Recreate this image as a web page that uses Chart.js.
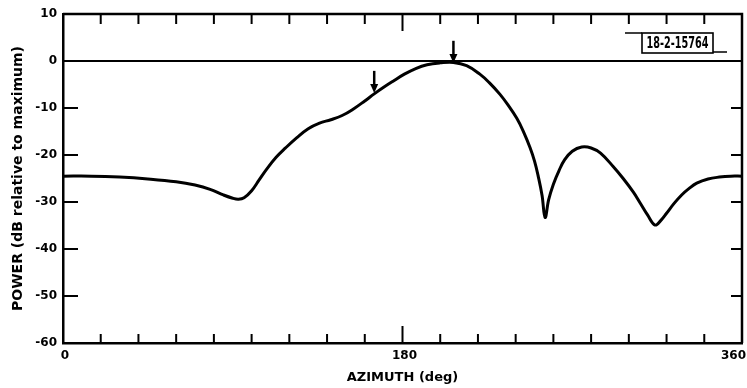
<!DOCTYPE html>
<html>
<head>
<meta charset="utf-8">
<script src="https://cdn.jsdelivr.net/npm/chart.js@4/dist/chart.umd.min.js"></script>
<style>
  html, body { margin: 0; padding: 0; background: #fff; }
  #wrap { width: 747px; height: 388px; }
</style>
</head>
<body>
<div id="wrap"><canvas id="c" width="747" height="388"></canvas></div>
<script>
// ---- data ----
const azimuth = [0, 15, 30, 45, 60, 70, 78, 85, 90, 93, 96, 100, 104, 108, 113, 118, 124, 130, 136, 142, 148, 154, 160, 165, 170, 175, 181, 187, 193, 200, 207, 214, 221, 226, 231.7, 236, 240.6, 244, 247.6, 250, 252, 254, 255.6, 257.5, 260, 263, 266, 270, 275, 280, 285, 291.8, 297, 302.4, 306, 310, 313.9, 317, 320, 324, 328, 332, 336, 342, 348, 354, 360];
const powerDb = [-24.5, -24.5, -24.7, -25.1, -25.7, -26.4, -27.3, -28.5, -29.2, -29.4, -29.1, -27.6, -25.3, -23.0, -20.5, -18.5, -16.3, -14.4, -13.2, -12.5, -11.6, -10.2, -8.5, -7.0, -5.6, -4.3, -2.8, -1.6, -0.8, -0.4, -0.3, -1.0, -2.8, -4.6, -7.1, -9.4, -12.2, -14.9, -18.4, -21.3, -24.6, -28.6, -33.3, -29.5, -26.2, -23.3, -21.0, -19.2, -18.3, -18.5, -19.6, -22.5, -25.0, -27.9, -30.2, -32.8, -34.9, -33.9, -32.4, -30.3, -28.5, -27.1, -26.0, -25.1, -24.7, -24.5, -24.5];
const zeroAz = [0, 360];
const zeroDb = [0, 0];
const xMinorTicks = [20, 40, 60, 80, 100, 120, 140, 160, 180, 200, 220, 240, 260, 280, 300, 320, 340];
const xLabelValues = [0, 180, 360];
const yInnerTicks = [-50, -40, -30, -20, -10];
const arrowAz = [165, 207];
const arrowTopDb = [-2.1, 4.3];
const arrowTipDb = [-6.8, -0.4];
const figureId = '18-2-15764';
const xTitle = 'AZIMUTH (deg)';
const yTitle = 'POWER (dB relative to maximum)';

const curvePoints = azimuth.map((a, i) => ({ x: a, y: powerDb[i] }));
const zeroPoints = zeroAz.map((a, i) => ({ x: a, y: zeroDb[i] }));

const INK = '#000';
const tickFont = 'bold 12px "DejaVu Sans", sans-serif';

const decor = {
  id: 'decor',
  afterDraw(chart) {
    const ctx = chart.ctx;
    const xs = chart.scales.x, ys = chart.scales.y;
    const a = chart.chartArea;
    ctx.save();
    ctx.strokeStyle = INK;
    ctx.fillStyle = INK;
    ctx.lineCap = 'butt';
    // top and right frame
    ctx.lineWidth = 2.5;
    ctx.beginPath();
    ctx.moveTo(a.left, a.top);
    ctx.lineTo(a.right, a.top);
    ctx.lineTo(a.right, a.bottom);
    ctx.stroke();
    // x inward ticks (bottom and top)
    ctx.lineWidth = 2;
    xMinorTicks.forEach(v => {
      const px = xs.getPixelForValue(v);
      const lenB = v === 180 ? 17 : 9;
      const lenT = v === 180 ? 17 : 10;
      ctx.beginPath();
      ctx.moveTo(px, a.bottom);
      ctx.lineTo(px, a.bottom - lenB);
      ctx.moveTo(px, a.top);
      ctx.lineTo(px, a.top + lenT);
      ctx.stroke();
    });
    // y inward ticks (left and right)
    yInnerTicks.forEach(v => {
      const py = ys.getPixelForValue(v);
      ctx.beginPath();
      ctx.moveTo(a.left, py);
      ctx.lineTo(a.left + 15, py);
      ctx.moveTo(a.right, py);
      ctx.lineTo(a.right - 11, py);
      ctx.stroke();
    });
    // x tick labels
    ctx.font = tickFont;
    ctx.textBaseline = 'middle';
    xLabelValues.forEach((v, i) => {
      const px = xs.getPixelForValue(v);
      if (i === xLabelValues.length - 1) {
        ctx.textAlign = 'right';
        ctx.fillText(String(v), px + 4, a.bottom + 13);
      } else {
        ctx.textAlign = 'center';
        ctx.fillText(String(v), px + 2, a.bottom + 13);
      }
    });
    // arrows
    arrowAz.forEach((v, i) => {
      const px = xs.getPixelForValue(v);
      const pt = ys.getPixelForValue(arrowTopDb[i]);
      const pb = ys.getPixelForValue(arrowTipDb[i]);
      ctx.lineWidth = 2.5;
      ctx.beginPath();
      ctx.moveTo(px, pt);
      ctx.lineTo(px, pb - 6);
      ctx.stroke();
      ctx.beginPath();
      ctx.moveTo(px - 4, pb - 9);
      ctx.lineTo(px + 4, pb - 9);
      ctx.lineTo(px, pb);
      ctx.closePath();
      ctx.fill();
    });
    // figure id box
    const bx = a.right - 100, by = a.top + 19, bw = 71, bh = 20;
    ctx.lineWidth = 1.6;
    ctx.strokeRect(bx, by, bw, bh);
    ctx.beginPath();
    ctx.moveTo(bx - 17, by); ctx.lineTo(bx, by);
    ctx.moveTo(bx + bw, by + bh - 1); ctx.lineTo(bx + bw + 14, by + bh - 1);
    ctx.stroke();
    ctx.font = 'bold 15px "Liberation Sans Narrow", "DejaVu Sans Condensed", sans-serif';
    const tw = ctx.measureText(figureId).width;
    const target = 62;
    ctx.save();
    ctx.translate(bx + bw / 2, by + bh / 2 + 1);
    ctx.scale(target / tw, 1);
    ctx.textAlign = 'center';
    ctx.textBaseline = 'middle';
    ctx.fillText(figureId, 0, 0);
    ctx.restore();
    ctx.restore();
  }
};

new Chart(document.getElementById('c'), {
  type: 'scatter',
  data: {
    datasets: [
      {
        data: zeroPoints,
        showLine: true,
        borderColor: INK,
        borderWidth: 2,
        pointRadius: 0,
        fill: false
      },
      {
        data: curvePoints,
        showLine: true,
        borderColor: INK,
        borderWidth: 3,
        pointRadius: 0,
        tension: 0.4,
        fill: false
      }
    ]
  },
  options: {
    responsive: false,
    animation: false,
    events: [],
    layout: { padding: { top: 14, right: 5, left: 0, bottom: 0 } },
    plugins: {
      legend: { display: false },
      tooltip: { enabled: false },
      title: { display: false }
    },
    scales: {
      x: {
        type: 'linear',
        min: 0,
        max: 360,
        grid: { display: false, drawTicks: false },
        border: { display: true, color: INK, width: 2.5 },
        ticks: { display: false, stepSize: 20 },
        title: {
          display: true,
          text: xTitle,
          color: INK,
          font: { family: '"DejaVu Sans", sans-serif', size: 13, weight: 'bold' },
          padding: { top: 0, bottom: 3 }
        },
        afterFit(s) { s.height = 45; s.paddingLeft = 0; s.paddingRight = 0; }
      },
      y: {
        type: 'linear',
        min: -60,
        max: 10,
        grid: { display: false, drawTicks: false },
        border: { display: true, color: INK, width: 2.5 },
        ticks: {
          stepSize: 10,
          color: INK,
          padding: 6,
          font: { family: '"DejaVu Sans", sans-serif', size: 12, weight: 'bold' }
        },
        title: {
          display: true,
          text: yTitle,
          color: INK,
          font: { family: '"DejaVu Sans", sans-serif', size: 14, weight: 'bold' },
          padding: { top: 10, bottom: 0 }
        },
        afterFit(s) { s.width = 63; s.paddingTop = 0; s.paddingBottom = 0; }
      }
    }
  },
  plugins: [decor]
});
</script>
</body>
</html>
